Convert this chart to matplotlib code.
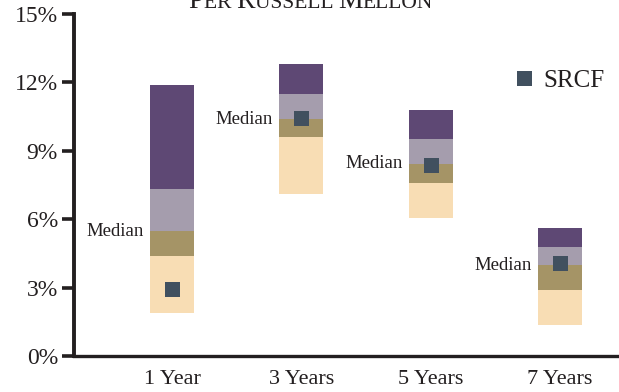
import matplotlib
matplotlib.use("Agg")
import matplotlib.pyplot as plt
from matplotlib.lines import Line2D
from matplotlib.transforms import IdentityTransform
import numpy as np

plt.rcParams["font.family"] = ["Liberation Serif", "DejaVu Serif"]

# ---------------------------------------------------------------------------
# Data (annualised returns, %)
# ---------------------------------------------------------------------------
periods = ["1 Year", "3 Years", "5 Years", "7 Years"]
p10 = [1.89, 7.12, 6.07, 1.36]
p25 = [4.39, 9.60, 7.59, 2.89]
median = [5.48, 10.39, 8.43, 3.99]
p75 = [7.32, 11.49, 9.52, 4.78]
p90 = [11.89, 12.81, 10.79, 5.61]
srcf = [2.92, 10.46, 8.36, 4.10]
yticks = [0, 3, 6, 9, 12, 15]

INK = "#231F20"
PEACH = "#F8DDB4"
OLIVE = "#A59466"
GREY = "#A59DAD"
PURPLE = "#5E4874"
MARK = "#41505F"

W, H = 619, 392
fig = plt.figure(figsize=(W / 100, H / 100), dpi=100)
ax = fig.add_axes([74 / W, 36 / H, 545 / W, 342 / H])

x = np.arange(len(periods))
bw = 0.34
bands = [(p10, p25, PEACH), (p25, median, OLIVE), (median, p75, GREY), (p75, p90, PURPLE)]
for lo, hi, col in bands:
    lo, hi = np.array(lo), np.array(hi)
    ax.bar(x, hi - lo, bottom=lo, width=bw, color=col, linewidth=0, zorder=2)

ax.plot(x, srcf, "s", ms=10.8, mew=0, color=MARK, zorder=3)

for xi, m in zip(x, median):
    ax.annotate("Median", (xi - bw / 2, m), xytext=(-4.5, 0),
                textcoords="offset points", ha="right", va="center",
                fontsize=13.5, color=INK)

ax.set_xlim(-0.758, 3.456)
ax.set_ylim(0, 15)
ax.set_xticks(x)
ax.set_xticklabels(periods, fontsize=16, color=INK)
ax.set_yticks(yticks)
ax.set_yticklabels([f"{t}%" for t in yticks], fontsize=17, color=INK)
ax.tick_params(axis="x", length=0, pad=10)
ax.tick_params(axis="y", length=8.6, width=2.6, color=INK, pad=3)
for s in ("top", "right"):
    ax.spines[s].set_visible(False)
ax.spines["left"].set_linewidth(2.8)
ax.spines["bottom"].set_linewidth(2.4)
ax.spines["left"].set_color(INK)
ax.spines["bottom"].set_color(INK)

handle = Line2D([0], [0], marker="s", ms=10.8, mew=0, color=MARK, linestyle="none")
ax.legend([handle], ["SRCF"], loc="center left",
          bbox_to_anchor=((516 - 74) / 545, (356 - 80.5) / 342),
          frameon=False, fontsize=18, borderpad=0, borderaxespad=0,
          handlelength=0.6, handletextpad=0.48, labelcolor=INK)

# Title in small caps, clipped at the top edge as in the source
parts = [("P", 20), ("ER ", 15.5), ("R", 20), ("USSELL ", 15.5), ("M", 20), ("ELLON", 15.5)]
renderer = fig.canvas.get_renderer()
xpos, base = 188, H - 8
for txt, fs in parts:
    t = fig.text(xpos, base, txt, fontsize=fs, color=INK, ha="left",
                 va="baseline", transform=IdentityTransform())
    xpos += t.get_window_extent(renderer).width

fig.savefig("out.png", dpi=100)
